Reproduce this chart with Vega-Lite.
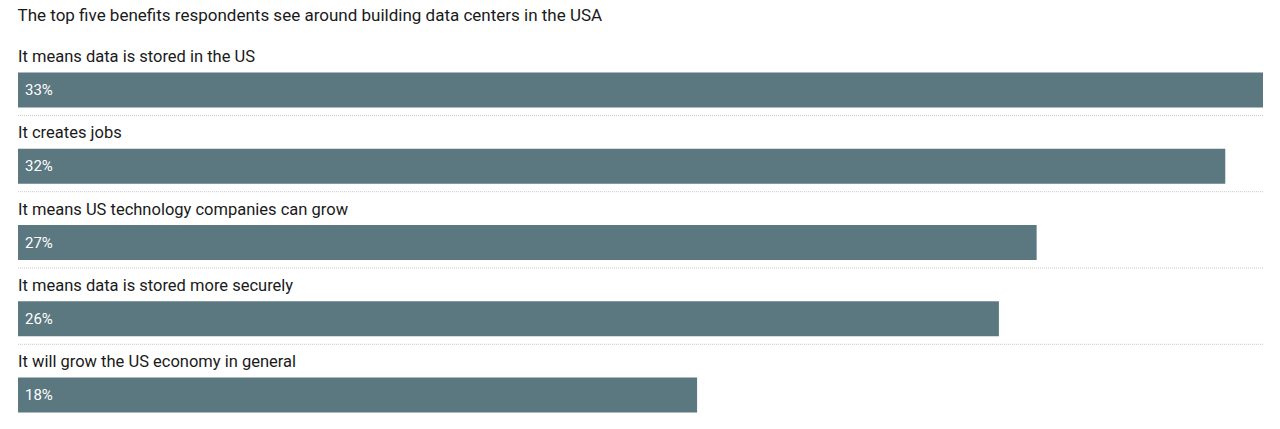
{
  "$schema": "https://vega.github.io/schema/vega-lite/v6.json",
  "width": 1280,
  "height": 429,
  "autosize": {"type": "fit", "contains": "padding"},
  "padding": {"left": 17, "right": 16, "top": 7, "bottom": 6.5},
  "background": "#ffffff",
  "title": {
    "text": "The top five benefits respondents see around building data centers in the USA",
    "anchor": "start",
    "font": "Roboto",
    "fontSize": 17,
    "fontWeight": "normal",
    "color": "#1a1a1a",
    "offset": 16
  },
  "config": {"view": {"stroke": null}},
  "data": {
    "values": [
      {"label": "It means data is stored in the US", "share": 0.33},
      {"label": "It creates jobs", "share": 0.32},
      {"label": "It means US technology companies can grow", "share": 0.27},
      {"label": "It means data is stored more securely", "share": 0.26},
      {"label": "It will grow the US economy in general", "share": 0.18}
    ]
  },
  "encoding": {
    "y": {
      "field": "label",
      "type": "nominal",
      "sort": null,
      "axis": null,
      "scale": {"paddingInner": 0, "paddingOuter": 0}
    }
  },
  "layer": [
    {
      "transform": [{"filter": "datum.label != 'It will grow the US economy in general'"}],
      "mark": {"type": "rule", "color": "#c8c8c8", "strokeWidth": 1, "strokeDash": [1, 1], "yOffset": 36.25},
      "encoding": {
        "x": {"datum": 0, "type": "quantitative", "scale": {"domain": [0, 0.33], "nice": false, "zero": true}, "axis": null},
        "x2": {"datum": 0.33}
      }
    },
    {
      "mark": {"type": "bar", "color": "#5b7780", "height": 35, "yOffset": 10.75, "cornerRadius": 0},
      "encoding": {
        "x": {"field": "share", "type": "quantitative", "scale": {"domain": [0, 0.33], "nice": false, "zero": true}, "axis": null}
      }
    },
    {
      "mark": {"type": "text", "align": "left", "baseline": "middle", "font": "Roboto", "fontSize": 16.5, "color": "#1a1a1a", "dy": -22},
      "encoding": {
        "x": {"datum": 0, "type": "quantitative"},
        "text": {"field": "label"}
      }
    },
    {
      "mark": {"type": "text", "align": "left", "baseline": "middle", "font": "Roboto", "fontSize": 15, "color": "#ffffff", "dx": 7, "dy": 10.75},
      "encoding": {
        "x": {"datum": 0, "type": "quantitative"},
        "text": {"field": "share", "format": ".0%"}
      }
    }
  ]
}
